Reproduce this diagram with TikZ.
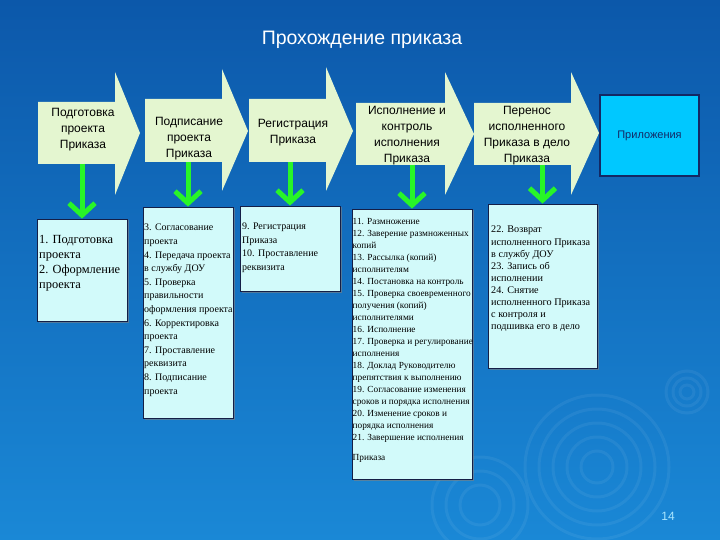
\documentclass[tikz,border=0pt]{standalone}
\usepackage{fontspec}
\setmainfont{Liberation Serif}
\setsansfont{Liberation Sans}
\usetikzlibrary{arrows.meta,shadows}
\definecolor{bgtop}{RGB}{12,88,170}
\definecolor{bgbot}{RGB}{26,136,214}
\definecolor{chevfill}{RGB}{228,246,208}
\definecolor{boxfill}{RGB}{210,250,250}
\definecolor{boxline}{RGB}{20,30,70}
\definecolor{appfill}{RGB}{0,200,255}
\definecolor{apptext}{RGB}{20,40,100}
\definecolor{gdown}{RGB}{40,245,40}
\definecolor{pagenum}{RGB}{170,230,255}
\tikzset{
  chev/.style={fill=chevfill},
  chevtxt/.style={font=\sffamily\fontsize{12}{16}\selectfont, align=center, text=black},
  stagebox/.style={draw=boxline, line width=.8pt, fill=boxfill,
    drop shadow={shadow xshift=1.5pt, shadow yshift=-1.5pt, opacity=.6}},
  stagetxt/.style={anchor=north west, inner sep=0pt, align=left, text=black},
  godown/.style={draw=gdown, line width=5pt, -{Straight Barb[length=12pt,width=26pt]}},
  ripple/.style={draw=white, opacity=.06, line width=3pt}
}
\begin{document}
\begin{tikzpicture}[x=1pt, y=-1pt]
\useasboundingbox (0,0) rectangle (720,540);
\shade[top color=bgtop, bottom color=bgbot] (0,0) rectangle (720,540);
\foreach \r in {16,30,44,58,72} \draw[ripple] (597,467) circle (\r);
\foreach \r in {7,14,21} \draw[ripple] (687,392) circle (\r);
\foreach \r in {20,34,48} \draw[ripple] (480,505) circle (\r);

\node[font=\sffamily\fontsize{19.5}{22}\selectfont, text=white] (title) at (362,40) {Прохождение приказа};

\fill[chev] (38,102)--(115,102)--(115,72)--(140,133)--(115,195)--(115,164)--(38,164)--cycle;
\fill[chev] (145,99)--(222,99)--(222,69)--(248,131)--(222,191)--(222,162)--(145,162)--cycle;
\fill[chev] (249,99)--(326,99)--(326,67)--(353,131)--(326,191)--(326,162)--(249,162)--cycle;
\fill[chev] (356,103)--(445,103)--(445,72)--(474,134)--(445,195)--(445,165)--(356,165)--cycle;
\fill[chev] (474,103)--(571,103)--(571,72)--(599,133)--(571,195)--(571,165)--(474,165)--cycle;

\node[chevtxt] (t1) at (83,130) {Подготовка\\проекта\\Приказа};
\node[chevtxt] (t2) at (189,139) {Подписание\\проекта\\Приказа};
\node[chevtxt] (t3) at (293,132.5) {Регистрация\\Приказа};
\node[chevtxt] (t4) at (407,136) {Исполнение и\\контроль\\исполнения\\Приказа};
\node[chevtxt] (t5) at (527,136) {Перенос\\исполненного\\Приказа в дело\\Приказа};

\node[draw=apptext, line width=1.2pt, fill=appfill, minimum width=99pt, minimum height=81pt,
  font=\sffamily\fontsize{11}{13}\selectfont, text=apptext] (app) at (649.5,135.5) {Приложения};

\node[stagebox, minimum width=90pt, minimum height=102pt] (b1) at (82,270) {};
\node[stagebox, minimum width=90pt, minimum height=211pt] (b2) at (188,312.5) {};
\node[stagebox, minimum width=100pt, minimum height=85pt] (b3) at (290,248.5) {};
\node[stagebox, minimum width=120pt, minimum height=270pt] (b4) at (412,344) {};
\node[stagebox, minimum width=109pt, minimum height=164pt] (b5) at (542.5,286) {};

\node[stagetxt, font=\fontsize{12.4}{15}\selectfont] at (39,235) {1. Подготовка\\проекта\\2. Оформление\\проекта};
\node[stagetxt, font=\fontsize{10}{13.6}\selectfont] at (144,224) {3. Согласование\\проекта\\4. Передача проекта\\в службу ДОУ\\5. Проверка\\правильности\\оформления проекта\\6. Корректировка\\проекта\\7. Проставление\\реквизита\\8. Подписание\\проекта};
\node[stagetxt, font=\fontsize{10}{13.5}\selectfont] at (242,223) {9. Регистрация\\Приказа\\10. Проставление\\реквизита};
\node[stagetxt, font=\fontsize{9.3}{12}\selectfont] at (352.5,218) {11. Размножение\\12. Заверение размноженных\\копий\\13. Рассылка (копий)\\исполнителям\\14. Постановка на контроль\\15. Проверка своевременного\\получения (копий)\\исполнителями\\16. Исполнение\\17. Проверка и регулирование\\исполнения\\18. Доклад Руководителю\\препятствия к выполнению\\19. Согласование изменения\\сроков и порядка исполнения\\20. Изменение сроков и\\порядка исполнения\\21. Завершение исполнения\\[8pt]Приказа};
\node[stagetxt, font=\fontsize{10.2}{12.1}\selectfont] at (491,226) {22. Возврат\\исполненного Приказа\\в службу ДОУ\\23. Запись об\\исполнении\\24. Снятие\\исполненного Приказа\\с контроля и\\подшивка его в дело};

\coordinate (p1) at (82,164);
\coordinate (p2) at (188,162);
\coordinate (p3) at (290,162);
\coordinate (p4) at (412,165);
\coordinate (p5) at (542.5,165);
\draw[godown] (p1) -- (b1.north);
\draw[godown] (p2) -- (b2.north);
\draw[godown] (p3) -- (b3.north);
\draw[godown] (p4) -- (b4.north);
\draw[godown] (p5) -- (b5.north);

\node[font=\sffamily\fontsize{12}{14}\selectfont, text=pagenum] (page) at (668,516) {14};
\end{tikzpicture}
\end{document}
